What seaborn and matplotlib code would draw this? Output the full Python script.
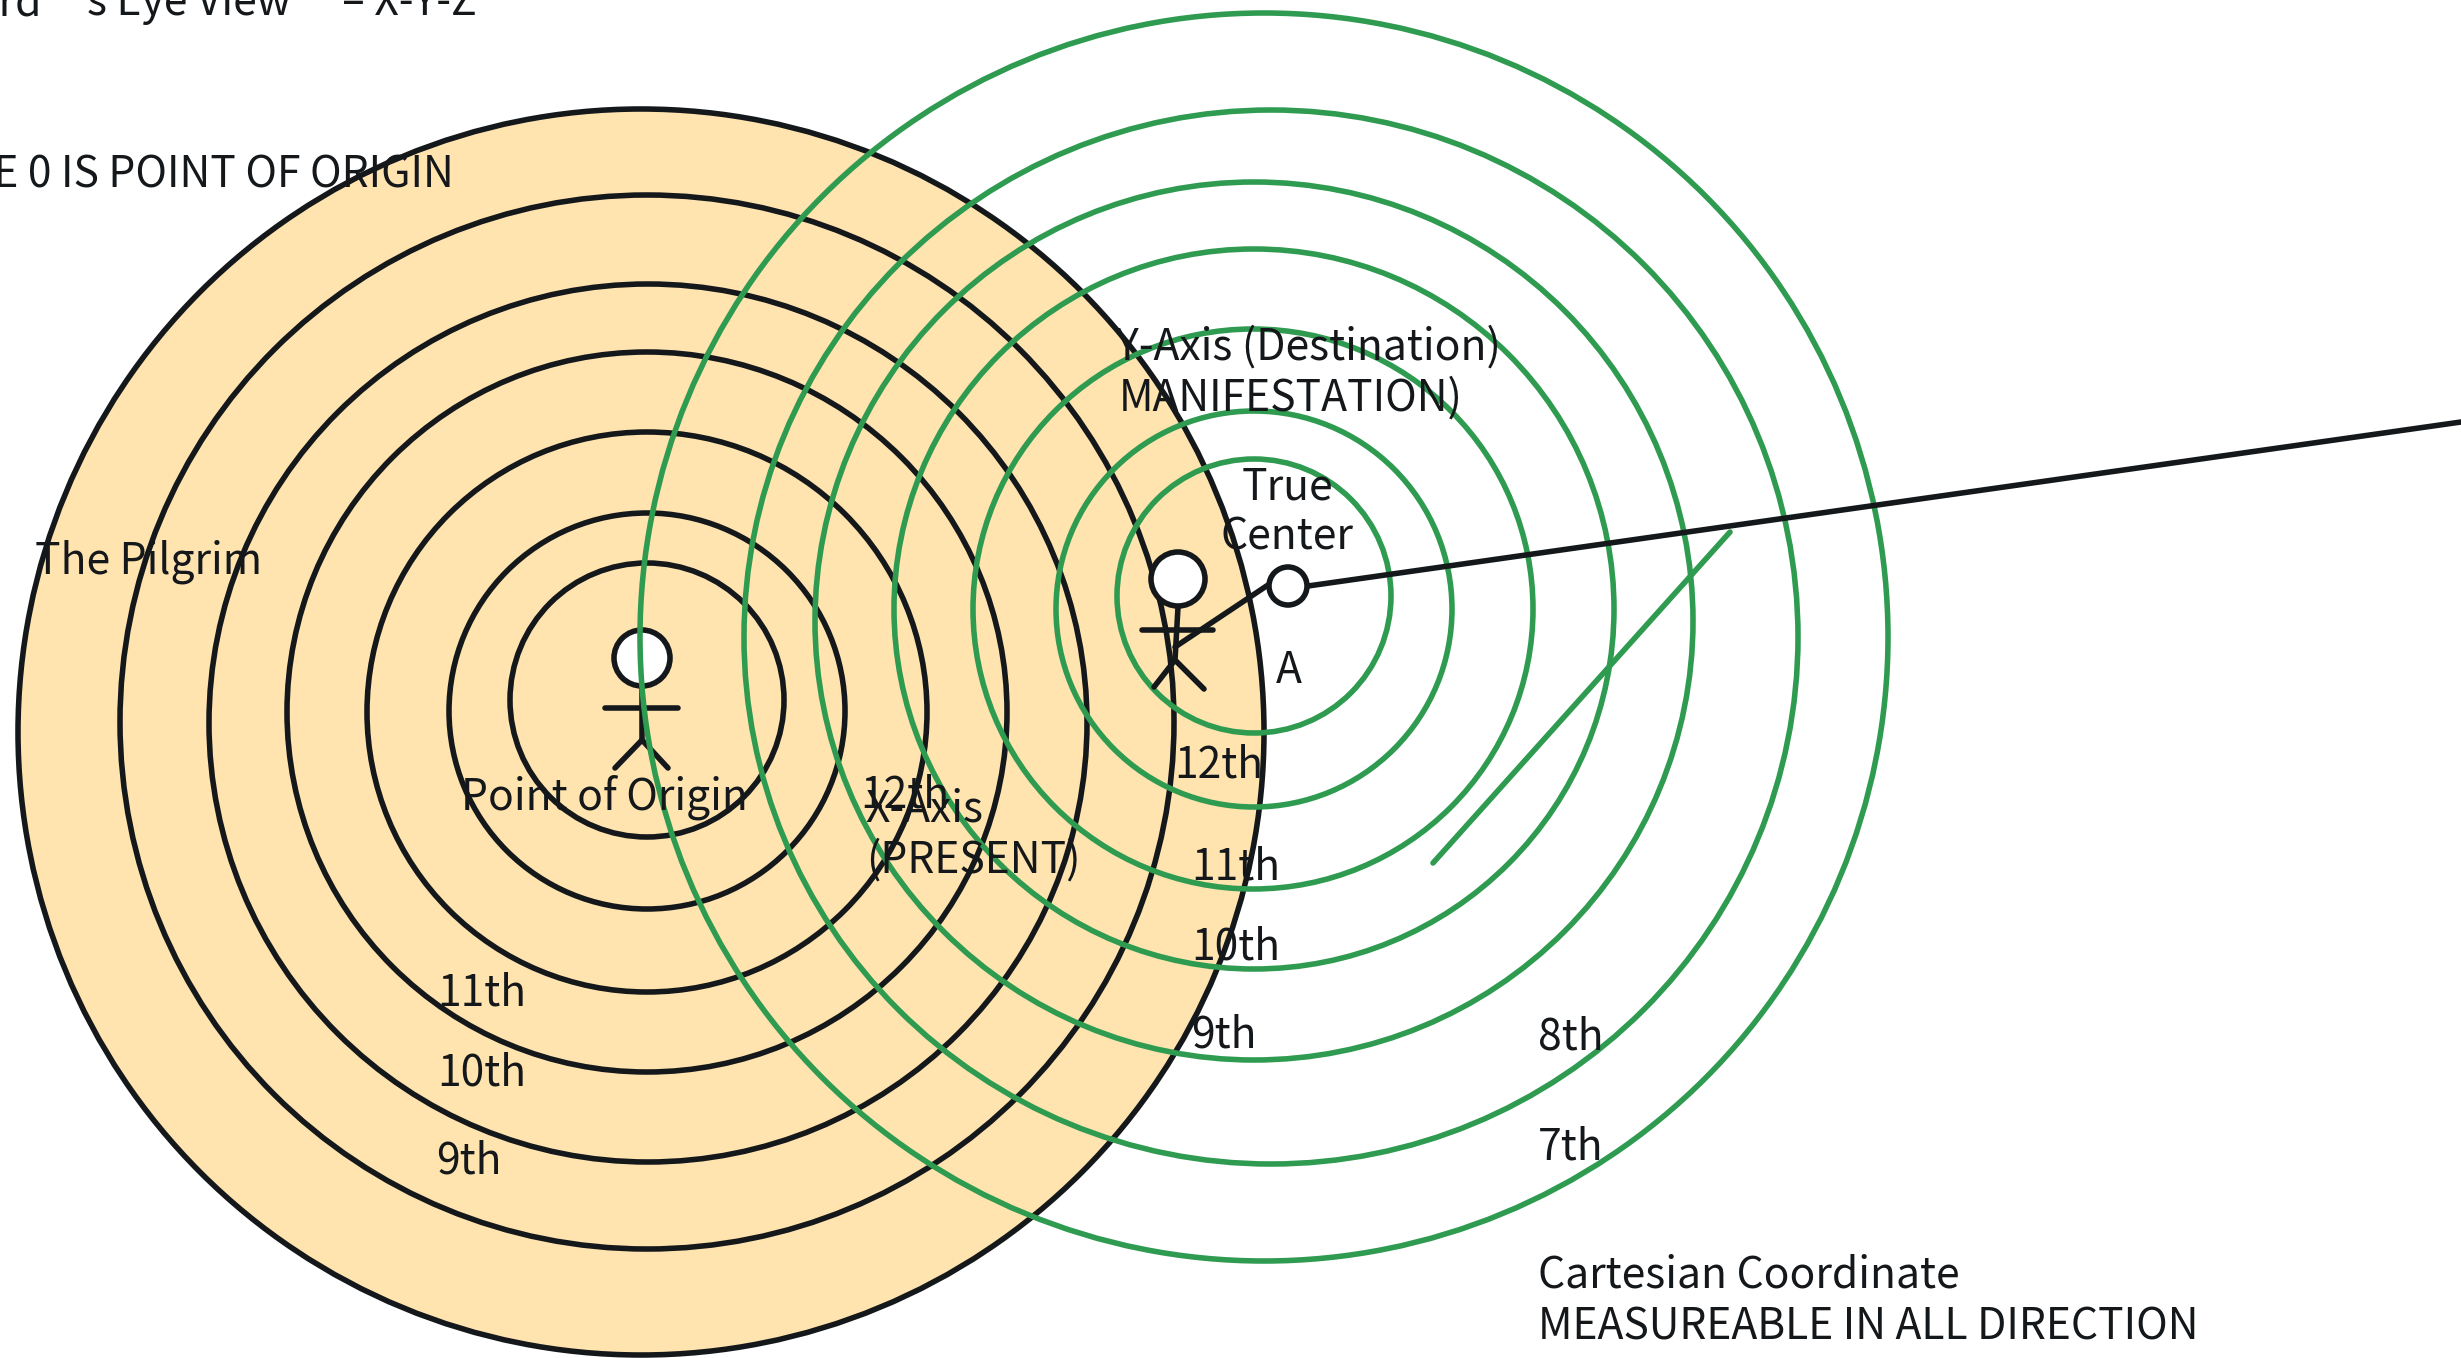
import matplotlib
matplotlib.use('Agg')
import matplotlib.pyplot as plt
from matplotlib.patches import Circle
import seaborn as sns

sns.set_theme(style='white')
plt.rcParams['font.family'] = ['Noto Sans CJK SC', 'DejaVu Sans']

INK = '#15181b'
GREEN = '#2f9b50'
SAND = '#ffe4b0'
STROKE = 4.0

# rings, in picture pixels
black_cx = [641, 647, 648, 647, 647, 647, 647]
black_cy = [732, 722, 723, 712, 712, 711, 700]
black_r = [623, 527, 439, 360, 280, 198, 137]

green_cx = [1264, 1271, 1254, 1254, 1253, 1254, 1254]
green_cy = [637, 637, 621, 609, 609, 609, 596]
green_r = [624, 527, 439, 360, 280, 198, 137]

# stick figures and lines
origin_body = ([642, 642], [687, 740])
origin_arms = ([605, 678], [708, 708])
origin_legs = ([615, 642, 668], [768, 740, 768])
pilgrim_body = ([1178, 1175], [607, 660])
pilgrim_arms = ([1142, 1213], [630, 630])
pilgrim_legs = ([1154, 1175, 1204], [687, 660, 689])
pilgrim_link = ([1175, 1268], [647, 585])
axis_line = ([1308, 2461], [586, 422])
green_tick = ([1433, 1730], [863, 532])

labels = ['3rd', 's Eye View', '– X-Y-Z', 'LINE 0 IS POINT OF ORIGIN', 'The Pilgrim',
          'Point of Origin', '12th', 'X-Axis', '(PRESENT)', '11th', '10th', '9th',
          'Y-Axis (Destination)', 'MANIFESTATION)', 'True', 'Center', 'A',
          '12th', '11th', '10th', '9th', '8th', '7th',
          'Cartesian Coordinate', 'MEASUREABLE IN ALL DIRECTION']
label_x = [42, 87, 342, 454, 35, 461, 860, 865, 866, 437, 437, 436, 1116, 1119, 1287, 1287, 1276,
           1174, 1191, 1191, 1191, 1538, 1538, 1538, 1538]
label_y = [15, 15, 15, 188, 574, 809, 807, 822, 873, 1005, 1086, 1174, 360, 411, 500, 550, 683,
           777, 879, 959, 1048, 1050, 1160, 1287, 1339]
label_ha = ['right', 'left', 'left', 'right', 'left', 'left', 'left', 'left', 'left', 'left', 'left', 'left',
            'left', 'left', 'center', 'center', 'left', 'left', 'left', 'left', 'left',
            'left', 'left', 'left', 'left']

fig = plt.figure(figsize=(24.61, 13.58), dpi=100)
ax = fig.add_axes([0, 0, 1, 1])
ax.set_xlim(0, 2461)
ax.set_ylim(1358, 0)
ax.axis('off')


def stroke(xy, color=INK, z=3):
    sns.lineplot(x=xy[0], y=xy[1], ax=ax, color=color, linewidth=STROKE, sort=False,
                 estimator=None, legend=False, zorder=z, solid_capstyle='round')


def ring(x, y, r, edge=INK, face='none', z=2):
    ax.add_patch(Circle((x, y), r, facecolor=face, edgecolor=edge, linewidth=STROKE, zorder=z))


# outer black ring carries the sand fill
for i in range(len(black_r)):
    ring(black_cx[i], black_cy[i], black_r[i], face=SAND if i == 0 else 'none', z=1 if i == 0 else 2)

# first figure sits under the green rings
ring(642, 658, 28, face='white', z=3)
for part in [origin_body, origin_arms, origin_legs]:
    stroke(part)

for i in range(len(green_r)):
    ring(green_cx[i], green_cy[i], green_r[i], edge=GREEN, z=4)
stroke(green_tick, color=GREEN, z=4)

# second figure and the true center go on top
for part in [pilgrim_body, pilgrim_arms, pilgrim_legs, pilgrim_link, axis_line]:
    stroke(part, z=5)
ring(1178, 579, 27, face='white', z=6)
ring(1288, 586, 19, face='white', z=6)

for i in range(len(labels)):
    ax.text(label_x[i], label_y[i], labels[i], fontsize=30.7, color=INK, ha=label_ha[i],
            va='baseline', zorder=7, clip_on=False)

fig.savefig('out.png', dpi=100)
